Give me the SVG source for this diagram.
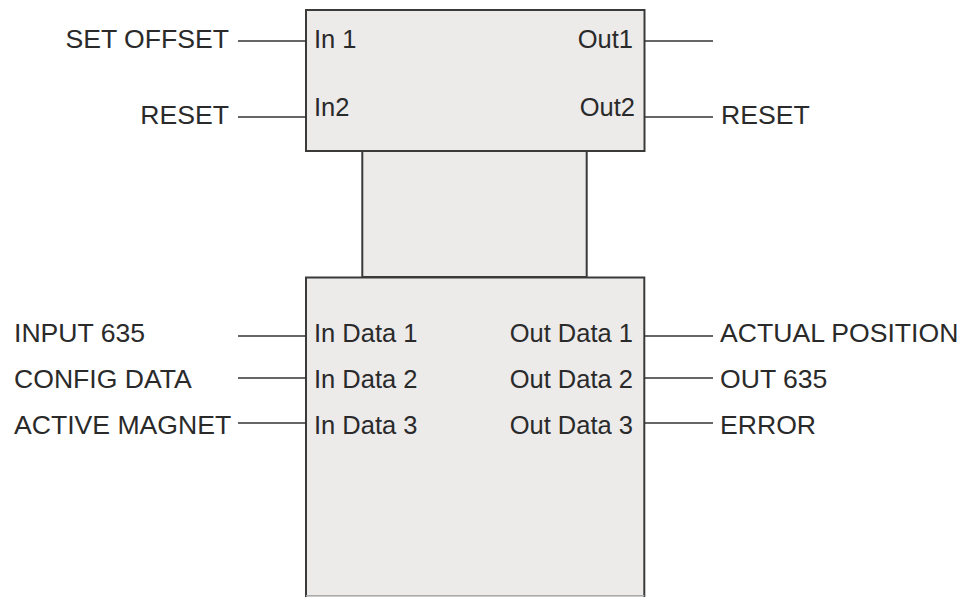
<svg xmlns="http://www.w3.org/2000/svg" width="963" height="597" viewBox="0 0 963 597">
<style>
.box{fill:#ecebea;stroke:#3a3a3a;stroke-width:2}
.wire{stroke:#333;stroke-width:1.6;fill:none}
text{font-family:"Liberation Sans",Arial,sans-serif;font-size:25.5px;fill:#2a2a2a}
#labels text{font-size:26.6px}
.e{text-anchor:end}
</style>
<rect width="963" height="597" fill="#fff"/>
<g id="link">
<rect class="box" x="362.3" y="151" width="224.4" height="126"/>
</g>
<g id="top-block">
<rect class="box" x="306" y="10" width="338.5" height="141"/>
<text x="314" y="48">In 1</text>
<text x="314" y="116">In2</text>
<text class="e" x="633" y="48">Out1</text>
<text class="e" x="635" y="116">Out2</text>
</g>
<g id="bottom-block">
<path class="box" d="M306,603 V277.5 H644.3 V603"/>
<line x1="306" y1="595.7" x2="644.3" y2="595.7" stroke="#aaa" stroke-width="1.5"/>
<text x="314" y="342">In Data 1</text>
<text x="314" y="388">In Data 2</text>
<text x="314" y="434">In Data 3</text>
<text class="e" x="633" y="342">Out Data 1</text>
<text class="e" x="633" y="388">Out Data 2</text>
<text class="e" x="633" y="434">Out Data 3</text>
</g>
<g id="connectors">
<line class="wire" x1="238" y1="41" x2="306" y2="41"/>
<line class="wire" x1="238" y1="117" x2="306" y2="117"/>
<line class="wire" x1="644" y1="41" x2="713" y2="41"/>
<line class="wire" x1="644" y1="117" x2="713" y2="117"/>
<line class="wire" x1="238" y1="336" x2="306" y2="336"/>
<line class="wire" x1="238" y1="378" x2="306" y2="378"/>
<line class="wire" x1="238" y1="423" x2="306" y2="423"/>
<line class="wire" x1="644" y1="336" x2="713" y2="336"/>
<line class="wire" x1="644" y1="378" x2="713" y2="378"/>
<line class="wire" x1="644" y1="423" x2="713" y2="423"/>
</g>
<g id="labels">
<text class="e" x="229" y="48">SET OFFSET</text>
<text class="e" x="229" y="124">RESET</text>
<text x="721" y="124">RESET</text>
<text x="14" y="342">INPUT 635</text>
<text x="14" y="388">CONFIG DATA</text>
<text x="14" y="434">ACTIVE MAGNET</text>
<text x="720" y="342">ACTUAL POSITION</text>
<text x="720" y="388">OUT 635</text>
<text x="720" y="434">ERROR</text>
</g>
</svg>
